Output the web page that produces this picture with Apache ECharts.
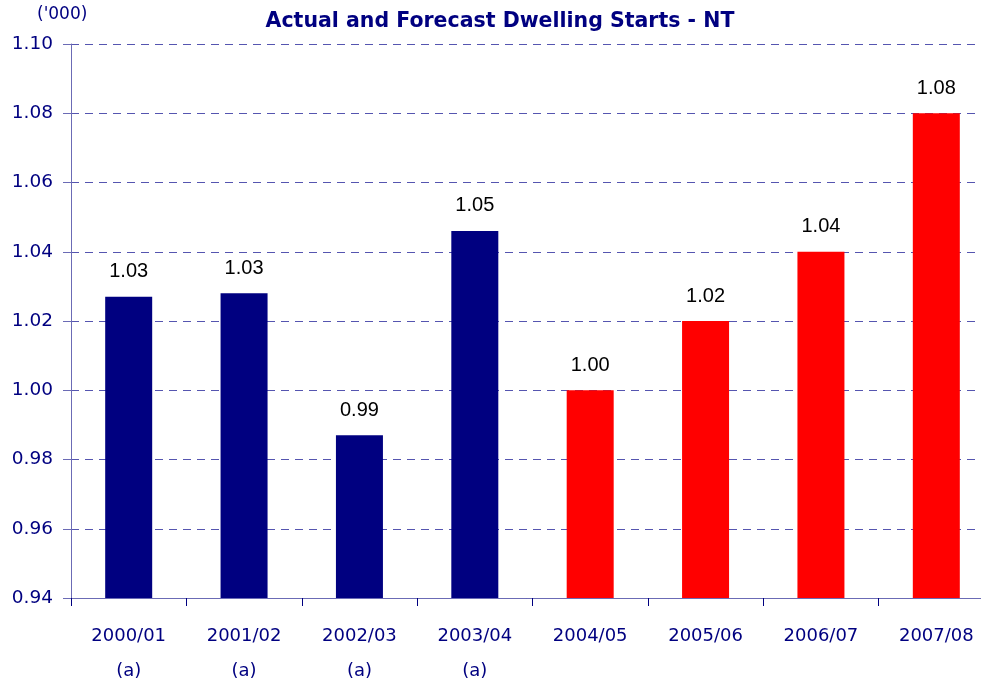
<!DOCTYPE html>
<html>
<head>
<meta charset="utf-8">
<script src="https://cdn.jsdelivr.net/npm/echarts@6/dist/echarts.min.js"></script>
<style>
  html, body { margin: 0; padding: 0; background: #fff; }
  #chart { width: 981px; height: 684px; }
</style>
</head>
<body>
<div id="chart"></div>
<script>
var years = ['2000/01', '2001/02', '2002/03', '2003/04', '2004/05', '2005/06', '2006/07', '2007/08'];
var notes = ['(a)', '(a)', '(a)', '(a)', '', '', '', ''];
var starts = [1.027, 1.028, 0.987, 1.046, 1.000, 1.020, 1.040, 1.080];
var forecast = [false, false, false, false, true, true, true, true];

var navy = '#000080';

var chart = echarts.init(document.getElementById('chart'));
chart.setOption({
	animation: false,
	title: {
		text: 'Actual and Forecast Dwelling Starts - NT',
		left: 495,
		textAlign: 'center',
		top: 6,
		textStyle: {
			color: navy,
			fontFamily: 'DejaVu Sans',
			fontSize: 20.5,
			fontWeight: 'bold'
		}
	},
	graphic: [{
		type: 'text',
		left: 37,
		top: 6,
		style: {
			text: "('000)",
			fill: navy,
			font: '17px "DejaVu Sans"'
		}
	}],
	grid: {
		left: 71,
		right: -13,
		top: 44,
		bottom: 86,
		containLabel: false,
		outerBoundsMode: 'none'
	},
	xAxis: {
		type: 'category',
		data: years.map(function (y, i) { return y + '\n' + notes[i]; }),
		axisLine: { lineStyle: { color: '#6b6bb5', width: 1 } },
		axisTick: { show: true, length: 8, lineStyle: { color: navy } },
		axisLabel: {
			color: navy,
			fontFamily: 'DejaVu Sans',
			fontSize: 18,
			lineHeight: 35,
			margin: 21,
			verticalAlign: 'top'
		}
	},
	yAxis: {
		type: 'value',
		min: 0.94,
		max: 1.10,
		interval: 0.02,
		axisLine: { show: true, lineStyle: { color: '#6b6bb5' } },
		axisTick: { show: true, length: 8, lineStyle: { color: '#6b6bb5' } },
		splitLine: {
			lineStyle: { color: '#5555b0', type: [8, 6], width: 1 }
		},
		axisLabel: {
			color: navy,
			fontFamily: 'DejaVu Sans',
			fontSize: 18.5,
			margin: 18,
			formatter: function (v) { return v.toFixed(2); }
		}
	},
	series: [{
		type: 'bar',
		barWidth: 47,
		data: starts.map(function (v, i) {
			return { value: v, itemStyle: { color: forecast[i] ? '#ff0000' : navy } };
		}),
		label: {
			show: true,
			position: 'top',
			distance: 15,
			color: '#000',
			fontFamily: 'Liberation Sans',
			fontSize: 20,
			formatter: function (p) { return p.value.toFixed(2); }
		}
	}]
});
</script>
</body>
</html>
